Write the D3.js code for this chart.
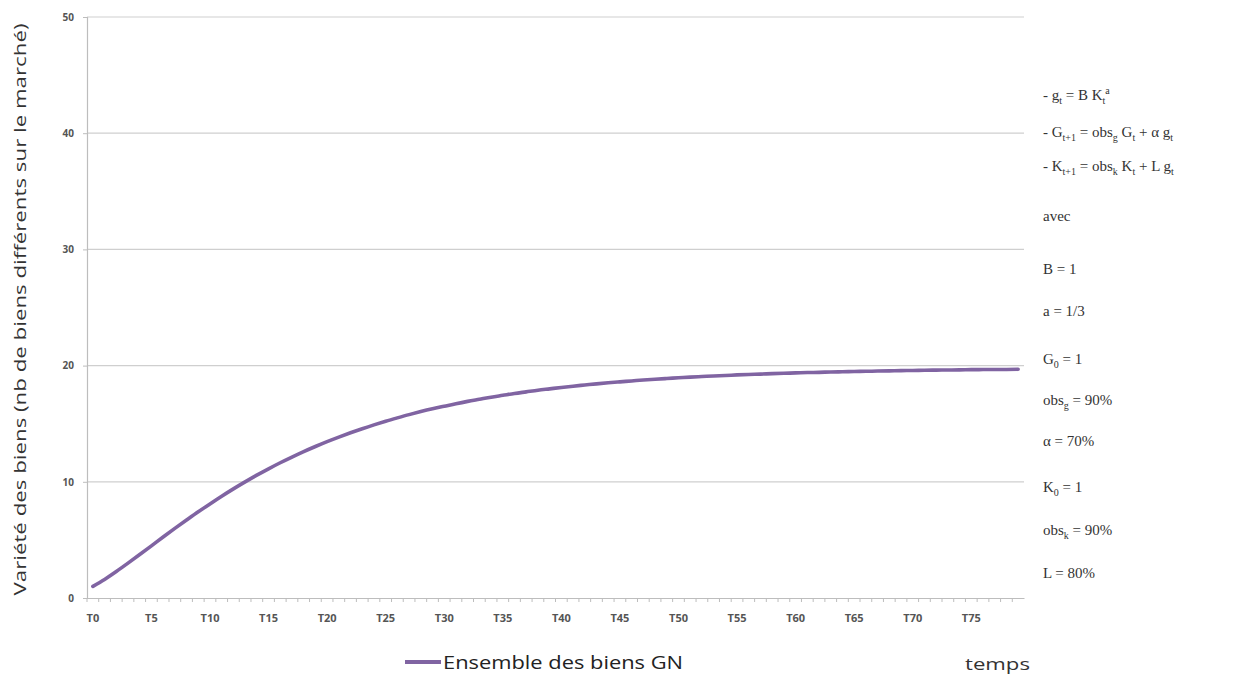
<!DOCTYPE html>
<html>
<head>
<meta charset="utf-8">
<script src="https://cdn.jsdelivr.net/npm/d3@7"></script>
<style>
  body { margin: 0; background: #fff; }
  svg { display: block; }
</style>
</head>
<body>
<div id="chart_container"></div>
<script>

width = 1243
height = 681

margin = ({top: 17, right: 220, bottom: 83, left: 87})

// periodes T0 .. T79
const categories = d3.range(80).map(i => "T" + i)

const tickLabels = ["T0", "T5", "T10", "T15", "T20", "T25", "T30", "T35",
	"T40", "T45", "T50", "T55", "T60", "T65", "T70", "T75"]

const yTicks = [0, 10, 20, 30, 40, 50]

// Ensemble des biens GN
const varieteGN = [
	1.0, 1.6, 2.28, 3.0, 3.74, 4.49, 5.25, 5.99, 6.71, 7.42,
	8.1, 8.76, 9.39, 9.99, 10.57, 11.12, 11.64, 12.13, 12.6, 13.04,
	13.46, 13.85, 14.22, 14.57, 14.9, 15.21, 15.5, 15.78, 16.04, 16.28,
	16.5, 16.72, 16.92, 17.1, 17.28, 17.44, 17.6, 17.74, 17.88, 18.0,
	18.12, 18.23, 18.33, 18.43, 18.52, 18.6, 18.68, 18.76, 18.83, 18.89,
	18.95, 19.01, 19.06, 19.11, 19.15, 19.2, 19.24, 19.27, 19.31, 19.34,
	19.37, 19.4, 19.42, 19.45, 19.47, 19.49, 19.51, 19.53, 19.55, 19.57,
	19.58, 19.6, 19.61, 19.62, 19.63, 19.65, 19.66, 19.67, 19.67, 19.68
]

const legendLabel = "Ensemble des biens GN"

// texte de droite : [morceau, decalage] ; 'sub' / 'sup' pour les indices
const notes = [
	{y: 100, parts: [["- g", ""], ["t", "sub"], [" = B K", ""], ["t", "sub"], ["a", "sup"]]},
	{y: 137, parts: [["- G", ""], ["t+1", "sub"], [" = obs", ""], ["g", "sub"], [" G", ""], ["t", "sub"], [" + α g", ""], ["t", "sub"]]},
	{y: 171, parts: [["- K", ""], ["t+1", "sub"], [" = obs", ""], ["k", "sub"], [" K", ""], ["t", "sub"], [" + L g", ""], ["t", "sub"]]},
	{y: 221, parts: [["avec", ""]]},
	{y: 274, parts: [["B = 1", ""]]},
	{y: 316, parts: [["a = 1/3", ""]]},
	{y: 364, parts: [["G", ""], ["0", "sub"], [" = 1", ""]]},
	{y: 405, parts: [["obs", ""], ["g", "sub"], [" = 90%", ""]]},
	{y: 446, parts: [["α = 70%", ""]]},
	{y: 492, parts: [["K", ""], ["0", "sub"], [" = 1", ""]]},
	{y: 535, parts: [["obs", ""], ["k", "sub"], [" = 90%", ""]]},
	{y: 578, parts: [["L = 80%", ""]]}
]

const purple = "#8064a2"

const svg = d3.select('#chart_container').append('svg')
	.attr('width', width)
	.attr('height', height)

let x = d3.scaleBand()
	.domain(categories)
	.range([margin.left, width - margin.right + 1])

let y = d3.scaleLinear()
	.domain([0, 50])
	.range([height - margin.bottom, margin.top])

// grille horizontale
svg.append("g")
	.selectAll("line")
	.data(yTicks.filter(d => d > 0))
	.enter()
	.append("line")
	.attr("x1", margin.left)
	.attr("x2", width - margin.right + 1)
	.attr("y1", d => y(d))
	.attr("y2", d => y(d))
	.attr("stroke", "#cfcfcf")
	.attr("stroke-width", 1.2)

// axe vertical
svg.append("g")
	.attr("transform", `translate(${margin.left},0)`)
	.call(d3.axisLeft(y).tickValues(yTicks).tickSize(4).tickPadding(9))
	.call(g => g.select(".domain").attr("stroke", "#bdbdbd").attr("stroke-width", 1.2))
	.call(g => g.selectAll(".tick line").attr("stroke", "#bdbdbd"))
	.call(g => g.selectAll(".tick text")
		.attr("font-family", "Open Sans, sans-serif")
		.attr("font-size", 10)
		.attr("font-weight", "bold")
		.attr("fill", "#555"))

// axe horizontal
svg.append("g")
	.attr("transform", `translate(0,${height - margin.bottom})`)
	.call(d3.axisBottom(x).tickValues(tickLabels).tickSize(0).tickPadding(16))
	.call(g => g.select(".domain").attr("stroke", "#bdbdbd").attr("stroke-width", 1.2))
	.call(g => g.selectAll(".tick text")
		.attr("font-family", "Open Sans, sans-serif")
		.attr("font-size", 11)
		.attr("font-weight", "bold")
		.attr("fill", "#555"))

// petites graduations entre les categories
svg.append("g")
	.selectAll("line")
	.data(categories)
	.enter()
	.append("line")
	.attr("x1", d => x(d))
	.attr("x2", d => x(d))
	.attr("y1", height - margin.bottom)
	.attr("y2", height - margin.bottom + 4)
	.attr("stroke", "#bdbdbd")

let line = d3.line()
	.curve(d3.curveMonotoneX)
	.x((d, i) => x(categories[i]) + x.bandwidth() / 2)
	.y(d => y(d))

svg.append("path")
	.datum(varieteGN)
	.attr("fill", "none")
	.attr("stroke", purple)
	.attr("stroke-width", 3.6)
	.attr("stroke-linejoin", "round")
	.attr("stroke-linecap", "round")
	.attr("d", line)

// titre axe y
svg.append("text")
	.attr("transform", `translate(26,${(margin.top + height - margin.bottom) / 2 + 2}) rotate(-90)`)
	.attr("text-anchor", "middle")
	.attr("font-family", "Open Sans, sans-serif")
	.attr("font-size", 17)
	.attr("fill", "#333")
	.attr("textLength", 572)
	.attr("lengthAdjust", "spacingAndGlyphs")
	.text("Variété des biens (nb de biens différents sur le marché)")

// legende
svg.append("line")
	.attr("x1", 405)
	.attr("x2", 441)
	.attr("y1", 662)
	.attr("y2", 662)
	.attr("stroke", purple)
	.attr("stroke-width", 4)

svg.append("text")
	.attr("x", 443)
	.attr("y", 669)
	.attr("font-family", "Open Sans, sans-serif")
	.attr("font-size", 18)
	.attr("fill", "#222")
	.attr("textLength", 240)
	.attr("lengthAdjust", "spacingAndGlyphs")
	.text(legendLabel)

svg.append("text")
	.attr("x", 965)
	.attr("y", 670)
	.attr("font-family", "Open Sans, sans-serif")
	.attr("font-size", 16)
	.attr("fill", "#333")
	.attr("textLength", 65)
	.attr("lengthAdjust", "spacingAndGlyphs")
	.text("temps")

// equations du modele
let noteG = svg.append("g")
	.attr("font-family", "Liberation Serif, serif")
	.attr("font-size", 15)
	.attr("fill", "#333")

const shift = {"": 0, "sub": 4, "sup": -6}

notes.forEach(function(n){

	let t = noteG.append("text")
		.attr("x", 1043)
		.attr("y", n.y)

	let prev = 0
	n.parts.forEach(function(p){
		let s = t.append("tspan")
			.attr("dy", shift[p[1]] - prev)
			.text(p[0])
		if(p[1] != "") s.attr("font-size", 10)
		prev = shift[p[1]]
	})
})

</script>
</body>
</html>
